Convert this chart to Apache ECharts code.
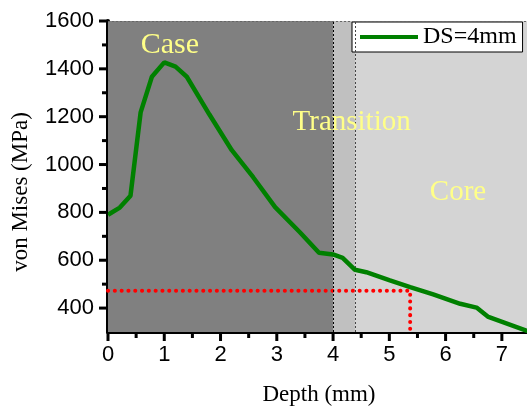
<!DOCTYPE html>
<html>
<head>
<meta charset="utf-8">
<script src="https://cdn.jsdelivr.net/npm/echarts@6/dist/echarts.min.js"></script>
<style>
  html, body { margin: 0; padding: 0; background: #fff; }
  #chart { width: 527px; height: 409px; }
</style>
</head>
<body>
<div id="chart"></div>
<script>
// Von Mises stress profile against depth (DS = 4 mm)
const depth = [0, 0.21, 0.4, 0.58, 0.78, 1.0, 1.2, 1.4, 1.8, 2.2, 2.58, 2.97, 3.41, 3.75, 4.0, 4.17, 4.39, 4.59, 5.01, 5.37, 5.78, 6.26, 6.55, 6.76, 7.5];
const vonMises = [790, 820, 870, 1218, 1367, 1427, 1409, 1367, 1210, 1060, 947, 822, 717, 631, 624, 610, 560, 550, 516, 488, 457, 418, 402, 363, 300];

// Hardened zones: case / transition / core
const zoneNames = ['Case', 'Transition', 'Core'];
const zoneBounds = [0, 4, 4.4, 7.5];

// Reference level
const refStress = 472;
const refDepth = 5.37;

const xTicks = [0, 1, 2, 3, 4, 5, 6, 7];
const xMinorTicks = [0.5, 1.5, 2.5, 3.5, 4.5, 5.5, 6.5];
const yTicks = [400, 600, 800, 1000, 1200, 1400, 1600];
const yMinorTicks = [500, 700, 900, 1100, 1300, 1500];

const chart = echarts.init(document.getElementById('chart'));

const zoneColors = ['#808080', '#c0c0c0', '#d4d4d4'];
const labelFont = 'Liberation Sans, Arial, sans-serif';
const serifFont = 'Liberation Serif, Times New Roman, serif';

const xMin = 0, xMax = 7.5, yMin = 300, yMax = 1600;
const curve = depth.map((d, i) => [d, vonMises[i]]);
const refLine = [[0, refStress], [refDepth, refStress], [refDepth, yMin]];

const axisLineStyle = { color: '#000', width: 4 };

chart.setOption({
  animation: false,
  grid: { left: 108, right: -3, top: 21, bottom: 77, outerBoundsMode: 'none' },
  xAxis: {
    type: 'value', min: xMin, max: xMax, interval: 1,
    name: 'Depth (mm)', nameLocation: 'middle', nameGap: 51,
    nameTextStyle: { fontFamily: serifFont, fontSize: 23, color: '#000' },
    axisLine: { show: true, lineStyle: axisLineStyle },
    axisTick: { show: false },
    axisLabel: { show: true, customValues: xTicks, margin: 12, fontFamily: labelFont, fontSize: 22, color: '#000', formatter: v => String(v) },
    splitLine: { show: false }
  },
  yAxis: {
    type: 'value', min: yMin, max: yMax, interval: 100,
    axisLine: { show: true, lineStyle: axisLineStyle },
    axisTick: { show: false },
    axisLabel: { show: true, customValues: yTicks, margin: 14, fontFamily: labelFont, fontSize: 22, color: '#000', formatter: v => String(v) },
    splitLine: { show: false }
  },
  legend: {
    left: 352, top: 22,
    padding: [3, 6, 3, 8],
    backgroundColor: '#fff', borderColor: '#000', borderWidth: 1, borderRadius: 0,
    itemWidth: 58, itemHeight: 4, itemGap: 6,
    icon: 'rect',
    textStyle: { fontFamily: serifFont, fontSize: 24, color: '#000' },
    data: ['DS=4mm']
  },
  series: [{
    // zone shading, boundaries and zone names
    name: 'zones', type: 'line', data: [], silent: true,
    markArea: {
      silent: true,
      data: zoneNames.map((n, i) => [
        { xAxis: zoneBounds[i], itemStyle: { color: zoneColors[i] } },
        { xAxis: zoneBounds[i + 1] }
      ])
    },
    markLine: {
      silent: true, symbol: 'none', label: { show: false },
      data: [
        { xAxis: zoneBounds[1], lineStyle: { color: '#000', type: [2, 2], width: 1 } },
        { xAxis: zoneBounds[2], lineStyle: { color: '#444', type: [2, 2], width: 1 } },
        { yAxis: yMax, lineStyle: { color: '#666', type: [2, 2], width: 1 } }
      ]
    },
    markPoint: {
      silent: true, symbol: 'circle', symbolSize: 0,
      label: { show: true, position: 'inside', color: '#ffff88', fontFamily: serifFont, fontSize: 29 },
      data: [
        { name: zoneNames[0], coord: [1.1, 1500], label: { formatter: zoneNames[0], fontSize: 30 } },
        { name: zoneNames[1], coord: [4.33, 1175], label: { formatter: zoneNames[1] } },
        { name: zoneNames[2], coord: [6.22, 883], label: { formatter: zoneNames[2] } }
      ]
    }
  }, {
    name: 'ref', type: 'line', data: refLine, silent: true,
    symbol: 'none',
    lineStyle: { color: '#ff0000', width: 4, type: [0.1, 6.7], cap: 'round' }
  }, {
    name: 'DS=4mm', type: 'line', data: curve,
    symbol: 'none', smooth: false,
    lineStyle: { color: '#008000', width: 4.5 },
    itemStyle: { color: '#008000' },
    z: 5
  }]
});

// Outward tick marks as small filled bars, placed through the grid's own scales
const MAJOR = 9, MINOR = 6, TW = 3;
const toPx = (x, y) => chart.convertToPixel({ gridIndex: 0 }, [x, y]);
const xTickBar = (v, len) => {
  const p = toPx(v, yMin);
  return { type: 'rect', silent: true, z: 100, shape: { x: p[0] - TW / 2, y: p[1], width: TW, height: len }, style: { fill: '#000' } };
};
const yTickBar = (v, len) => {
  const p = toPx(xMin, v);
  return { type: 'rect', silent: true, z: 100, shape: { x: p[0] - len, y: p[1] - TW / 2, width: len, height: TW }, style: { fill: '#000' } };
};
const tickGraphics = []
  .concat(xTicks.map(v => xTickBar(v, MAJOR)))
  .concat(xMinorTicks.map(v => xTickBar(v, MINOR)))
  .concat(yTicks.map(v => yTickBar(v, MAJOR)))
  .concat(yMinorTicks.map(v => yTickBar(v, MINOR)));

chart.setOption({
  graphic: [{
    type: 'text', x: 21, y: 192, rotation: Math.PI / 2,
    style: { text: 'von Mises (MPa)', fontFamily: serifFont, fontSize: 23, fill: '#000', align: 'center', verticalAlign: 'middle' }
  }].concat(tickGraphics)
});
</script>
</body>
</html>
